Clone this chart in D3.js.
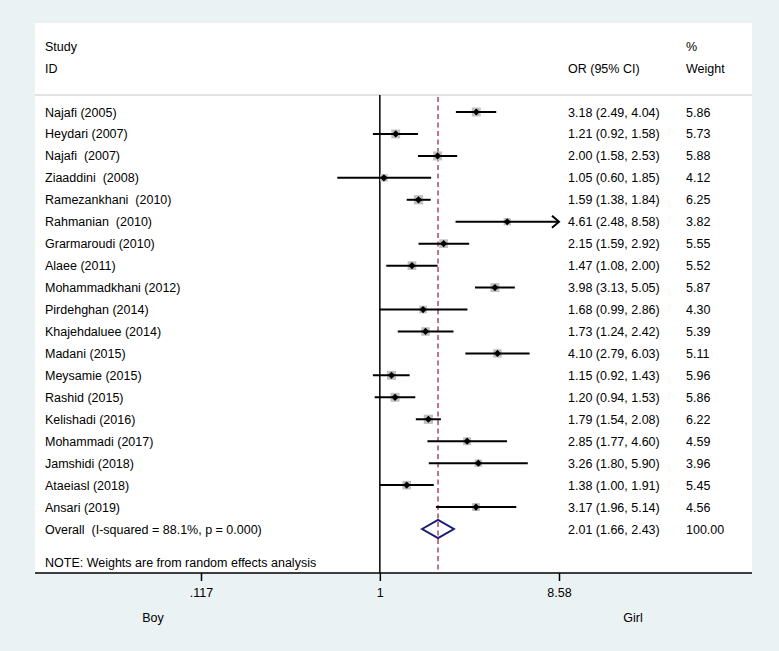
<!DOCTYPE html>
<html><head><meta charset="utf-8">
<script src="https://cdn.jsdelivr.net/npm/d3@7/dist/d3.min.js"></script>
<style>
html,body{margin:0;padding:0;background:#eaf2f3;}
svg{display:block;}
text{font-family:"Liberation Sans",Arial,Helvetica,sans-serif;font-size:12.5px;fill:#000;white-space:pre;}
</style></head><body>
<script>
const studies = ["Najafi (2005)","Heydari (2007)","Najafi  (2007)","Ziaaddini  (2008)","Ramezankhani  (2010)","Rahmanian  (2010)","Grarmaroudi (2010)","Alaee (2011)","Mohammadkhani (2012)","Pirdehghan (2014)","Khajehdaluee (2014)","Madani (2015)","Meysamie (2015)","Rashid (2015)","Kelishadi (2016)","Mohammadi (2017)","Jamshidi (2018)","Ataeiasl (2018)","Ansari (2019)"];
const orValues = [3.18,1.21,2.00,1.05,1.59,4.61,2.15,1.47,3.98,1.68,1.73,4.10,1.15,1.20,1.79,2.85,3.26,1.38,3.17];
const lowerCI = [2.49,0.92,1.58,0.60,1.38,2.48,1.59,1.08,3.13,0.99,1.24,2.79,0.92,0.94,1.54,1.77,1.80,1.00,1.96];
const upperCI = [4.04,1.58,2.53,1.85,1.84,8.58,2.92,2.00,5.05,2.86,2.42,6.03,1.43,1.53,2.08,4.60,5.90,1.91,5.14];
const weights = [5.86,5.73,5.88,4.12,6.25,3.82,5.55,5.52,5.87,4.30,5.39,5.11,5.96,5.86,6.22,4.59,3.96,5.45,4.56];
const overallLabel = "Overall  (I-squared = 88.1%, p = 0.000)";
const overall = {or:2.01, lo:1.66, hi:2.43, w:"100.00"};
const tickValues = [0.117, 1, 8.58];
const tickLabels = [".117", "1", "8.58"];
const noteText = "NOTE: Weights are from random effects analysis";

const W = 779, H = 651;
const svg = d3.select("body").append("svg").attr("width", W).attr("height", H);

const panel = {x0:35, x1:752, y0:23, y1:573};
svg.append("rect").attr("x",panel.x0).attr("y",panel.y0).attr("width",panel.x1-panel.x0).attr("height",panel.y1-panel.y0).attr("fill","#fff");

const x = d3.scaleLog().domain([0.117, 8.58]).range([201, 559]);
const y = d3.scaleLinear().domain([0, 19]).range([112, 529]);

// headers
const colStudy = 45, colOR = 568, colW = 686;
svg.append("text").attr("x",colStudy).attr("y",51).text("Study");
svg.append("text").attr("x",colStudy).attr("y",73).text("ID");
svg.append("text").attr("x",colOR).attr("y",73).text("OR (95% CI)");
svg.append("text").attr("x",colW).attr("y",51).text("%");
svg.append("text").attr("x",colW).attr("y",73).text("Weight");
const sepY = 95;
svg.append("line").attr("x1",panel.x0).attr("x2",panel.x1).attr("y1",sepY).attr("y2",sepY).attr("stroke","#c8c8c8").attr("stroke-width",1.2);

// null line
svg.append("line").attr("x1",x(1)).attr("x2",x(1)).attr("y1",sepY).attr("y2",panel.y1).attr("stroke","#000").attr("stroke-width",1.5);
// overall dashed line
svg.append("line").attr("x1",x(overall.or)).attr("x2",x(overall.or)).attr("y1",sepY+2).attr("y2",panel.y1)
  .attr("stroke","#9b3040").attr("stroke-width",1.3).attr("stroke-dasharray","5,3.5");

const rows = studies.map((s,i)=>({s, or:orValues[i], lo:lowerCI[i], hi:upperCI[i], w:weights[i], i}));
const maxX = 8.58;
const g = svg.append("g");
rows.forEach(d=>{
  const cy = y(d.i);
  const side = 3.7*Math.sqrt(d.w);
  const px = x(d.or);
  g.append("rect").attr("x",px-side/2).attr("y",cy-side/2).attr("width",side).attr("height",side).attr("fill","#c0c0c0");
  g.append("line").attr("x1",x(d.lo)).attr("x2",x(Math.min(d.hi,maxX))).attr("y1",cy).attr("y2",cy).attr("stroke","#000").attr("stroke-width",2);
  if (d.hi >= maxX) {
    const ax = x(maxX);
    g.append("path").attr("d",`M${ax-7},${cy-6}L${ax},${cy}L${ax-7},${cy+6}`).attr("fill","none").attr("stroke","#000").attr("stroke-width",2);
  }
  g.append("path").attr("d",`M${px-3.6},${cy}L${px},${cy-3.6}L${px+3.6},${cy}L${px},${cy+3.6}Z`).attr("fill","#000");
  g.append("text").attr("x",colStudy).attr("y",cy+4.5).text(d.s);
  g.append("text").attr("x",colOR).attr("y",cy+4.5).text(`${d.or.toFixed(2)} (${d.lo.toFixed(2)}, ${d.hi.toFixed(2)})`);
  g.append("text").attr("x",colW).attr("y",cy+4.5).text(d.w.toFixed(2));
});

// overall
const oy = y(19);
svg.append("path").attr("d",`M${x(overall.lo)},${oy}L${x(overall.or)},${oy-9}L${x(overall.hi)},${oy}L${x(overall.or)},${oy+9}Z`)
  .attr("fill","none").attr("stroke","#1a1a78").attr("stroke-width",2);
svg.append("text").attr("x",colStudy).attr("y",oy+4.5).text(overallLabel);
svg.append("text").attr("x",colOR).attr("y",oy+4.5).text(`${overall.or.toFixed(2)} (${overall.lo.toFixed(2)}, ${overall.hi.toFixed(2)})`);
svg.append("text").attr("x",colW).attr("y",oy+4.5).text(overall.w);
svg.append("text").attr("x",colStudy).attr("y",567).text(noteText);

// axis
svg.append("line").attr("x1",panel.x0).attr("x2",panel.x1).attr("y1",panel.y1).attr("y2",panel.y1).attr("stroke","#000").attr("stroke-width",1.5);
const axis = d3.axisBottom(x).tickValues(tickValues).tickFormat((d,i)=>tickLabels[i]).tickSize(8).tickPadding(7);
const ag = svg.append("g").attr("transform",`translate(0,${panel.y1})`).call(axis);
ag.select(".domain").remove();
ag.selectAll("line").attr("stroke","#000").attr("stroke-width",1.5);
ag.selectAll("text").style("font-size","12.5px").attr("fill","#000");

svg.append("text").attr("x",153).attr("y",622).attr("text-anchor","middle").text("Boy");
svg.append("text").attr("x",633).attr("y",622).attr("text-anchor","middle").text("Girl");
</script>
</body></html>
